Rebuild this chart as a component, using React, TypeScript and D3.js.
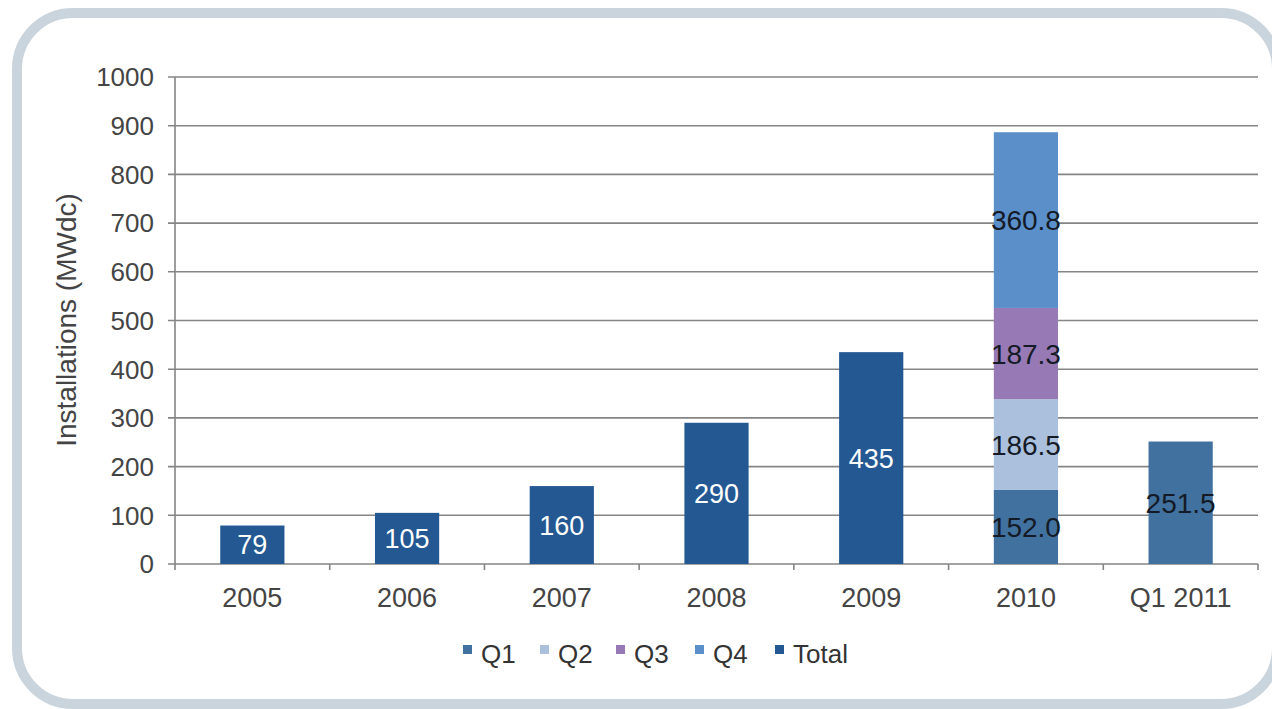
import React from "react";
import * as d3 from "d3";

const categories = ["2005", "2006", "2007", "2008", "2009", "2010", "Q1 2011"];
const totals = [79, 105, 160, 290, 435, null, null];
const q1 = [null, null, null, null, null, 152.0, 251.5];
const q2 = [null, null, null, null, null, 186.5, null];
const q3 = [null, null, null, null, null, 187.3, null];
const q4 = [null, null, null, null, null, 360.8, null];
const yTicks = [0, 100, 200, 300, 400, 500, 600, 700, 800, 900, 1000];
const legendLabels = ["Q1", "Q2", "Q3", "Q4", "Total"];

const colors: Record<string, string> = {
  Q1: "#41719f",
  Q2: "#aac0dc",
  Q3: "#977ab5",
  Q4: "#5a8fca",
  Total: "#235893",
};

const W = 1272;
const H = 709;
const M = { left: 175, right: 1258, top: 77, bottom: 564 };
const FONT = "'Liberation Sans', Arial, Helvetica, sans-serif";

export default function App() {
  const x = d3
    .scaleBand<string>()
    .domain(categories)
    .range([M.left, M.right])
    .paddingInner(0.585)
    .paddingOuter(0.2925);
  const y = d3.scaleLinear().domain([0, 1000]).range([M.bottom, M.top]);
  const step = x.step();

  const series = [
    { key: "Q1", values: q1 },
    { key: "Q2", values: q2 },
    { key: "Q3", values: q3 },
    { key: "Q4", values: q4 },
  ];

  const segments: { cat: string; key: string; y0: number; y1: number; color: string; label: string; labelColor: string }[] = [];
  categories.forEach((c, i) => {
    if (totals[i] != null) {
      segments.push({ cat: c, key: "Total", y0: 0, y1: totals[i] as number, color: colors.Total, label: String(totals[i]), labelColor: "#ffffff" });
    }
    let base = 0;
    series.forEach((s) => {
      const v = s.values[i];
      if (v != null) {
        segments.push({ cat: c, key: s.key, y0: base, y1: base + v, color: colors[s.key], label: v.toFixed(1), labelColor: "#141a26" });
        base += v;
      }
    });
  });

  // legend layout: swatch positions along the bottom row
  const legendFont = 26;
  const legendStarts = [463, 540, 616, 695, 775];

  return (
    <svg
      width={W}
      height={H}
      style={{ position: "absolute", left: 0, top: 0, background: "#ffffff" }}
      fontFamily={FONT}
    >
      <rect x={17} y={13} width={1260} height={691} rx={56} ry={56} fill="#ffffff" stroke="#c9d4dc" strokeWidth={10} />

      {/* gridlines */}
      {yTicks.map((t) => (
        <line key={"g" + t} x1={M.left - 7} x2={M.right} y1={y(t)} y2={y(t)} stroke="#858585" strokeWidth={1.6} />
      ))}
      {/* y axis line */}
      <line x1={M.left} x2={M.left} y1={M.top} y2={M.bottom} stroke="#858585" strokeWidth={1.6} />
      {/* x tick marks at band boundaries */}
      {categories.map((c, i) => (
        <line
          key={"xt" + c}
          x1={M.left + step * i}
          x2={M.left + step * i}
          y1={M.bottom}
          y2={M.bottom + 6}
          stroke="#858585"
          strokeWidth={1.6}
        />
      ))}
      <line x1={M.right} x2={M.right} y1={M.bottom} y2={M.bottom + 6} stroke="#858585" strokeWidth={1.6} />

      {/* y tick labels */}
      {yTicks.map((t) => (
        <text key={"yl" + t} x={M.left - 21} y={y(t)} dy="0.36em" textAnchor="end" fontSize={26} fill="#444">
          {t}
        </text>
      ))}

      {/* x tick labels */}
      {categories.map((c) => (
        <text key={"xl" + c} x={(x(c) as number) + x.bandwidth() / 2} y={607} textAnchor="middle" fontSize={27} fill="#444">
          {c}
        </text>
      ))}

      {/* axis title */}
      <text
        transform={`translate(76, 320) rotate(-90)`}
        textAnchor="middle"
        fontSize={28}
        fill="#444"
      >
        Installations (MWdc)
      </text>

      {/* bars */}
      {segments.map((s, i) => (
        <rect
          key={"b" + i}
          x={x(s.cat)}
          width={x.bandwidth()}
          y={y(s.y1)}
          height={y(s.y0) - y(s.y1)}
          fill={s.color}
        />
      ))}
      {/* bar labels */}
      {segments.map((s, i) => (
        <text
          key={"bl" + i}
          x={(x(s.cat) as number) + x.bandwidth() / 2}
          y={(y(s.y0) + y(s.y1)) / 2}
          dy="0.36em"
          textAnchor="middle"
          fontSize={s.key === "Total" ? 27 : 28}
          fill={s.labelColor}
        >
          {s.label}
        </text>
      ))}

      {/* legend */}
      {legendLabels.map((l, i) => (
        <g key={"lg" + l}>
          <rect x={legendStarts[i]} y={645} width={9} height={9} fill={colors[l]} />
          <text x={legendStarts[i] + 18} y={663} fontSize={legendFont} fill="#333">
            {l}
          </text>
        </g>
      ))}
    </svg>
  );
}
